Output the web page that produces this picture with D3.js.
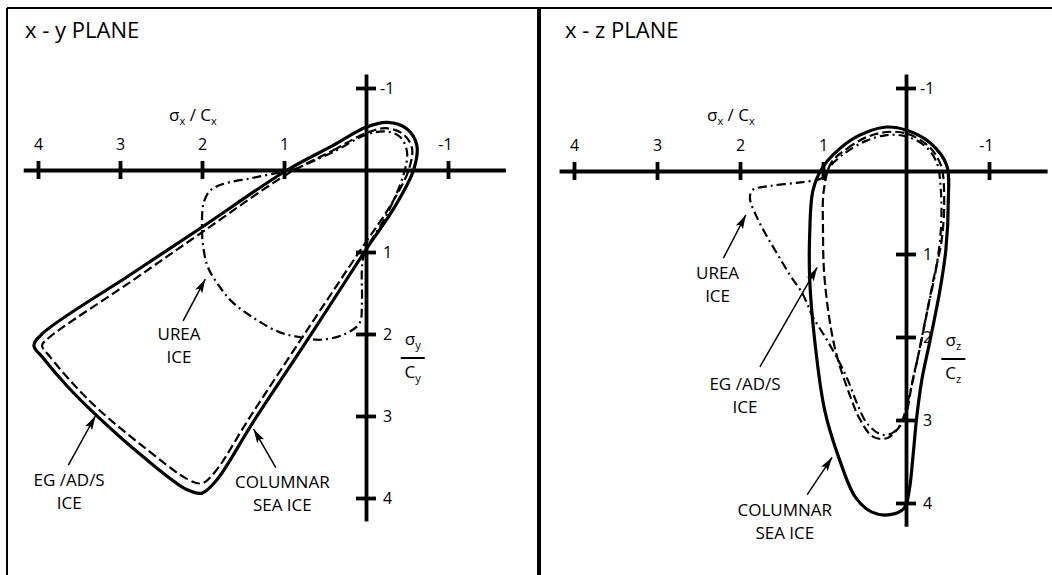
<!DOCTYPE html>
<html>
<head>
<meta charset="utf-8">
<script src="https://cdn.jsdelivr.net/npm/d3@7"></script>
<style>
  body { margin: 0; background: #fff; }
  svg { display: block; font-family: "Open Sans", sans-serif; }
  .axis .domain { stroke: #000; stroke-width: 3.8; }
  .axis .tick line { stroke: #000; stroke-width: 3.8; }
  .axis .tick text { font-size: 16px; fill: #000; font-family: "Open Sans", sans-serif; }
</style>
</head>
<body>
<svg width="1052" height="575"></svg>
<script>
var svg = d3.select("svg");

// tick values (same on both panels)
var xTicks = [4, 3, 2, 1, -1];
var yTicks = [-1, 1, 2, 3, 4];

// x - y plane  [sigma_x/C_x, sigma_y/C_y]
var xyColumnar = [[0.96,0],[0.40,-0.30],[0.0,-0.52],[-0.26,-0.58],[-0.50,-0.50],[-0.62,-0.30],[-0.58,0],[-0.35,0.45],
  [0,0.97],[0.68,2.02],[1.38,3.08],[1.82,3.78],[2.0,3.94],[2.18,3.90],[2.75,3.47],[3.30,2.98],[3.64,2.64],[3.94,2.29],[4.05,2.14],
  [3.94,1.99],[2.88,1.28],[2.02,0.71]];
var xyEgads = [[0.96,0.05],[0.40,-0.24],[0.0,-0.45],[-0.24,-0.51],[-0.45,-0.44],[-0.56,-0.27],[-0.52,0],[-0.30,0.43],
  [0.05,0.95],[0.73,1.97],[1.42,3.02],[1.84,3.68],[2.0,3.82],[2.16,3.78],[2.72,3.37],[3.25,2.93],[3.57,2.61],[3.86,2.27],[3.95,2.14],
  [3.86,2.04],[2.88,1.37],[2.0,0.76]];
var xyUrea = [[0.96,0.02],[1.05,0.03],[1.40,0.10],[1.74,0.17],[1.90,0.25],[1.98,0.40],[2.0,0.61],[1.99,0.89],[1.93,1.18],
  [1.78,1.43],[1.62,1.62],[1.33,1.83],[1.05,1.98],[0.80,2.04],[0.56,2.07],[0.28,2.01],[0.08,1.87],[0.05,1.62],[0.05,1.22],
  [0.02,1.02],[-0.25,0.55],[-0.46,0.05],[-0.50,-0.22],[-0.42,-0.40],[-0.25,-0.47],[0.0,-0.43],[0.40,-0.22]];

// x - z plane  [sigma_x/C_x, sigma_z/C_z]
var xzColumnar = [[1.0,-0.05],[0.71,-0.34],[0.47,-0.47],[0.23,-0.53],[-0.01,-0.49],[-0.29,-0.34],[-0.49,-0.07],[-0.51,0.35],
  [-0.48,0.95],[-0.41,1.43],[-0.29,2.04],[-0.19,2.52],[-0.13,2.96],[-0.08,3.48],[-0.04,3.84],[0.02,4.06],[0.19,4.14],
  [0.41,4.11],[0.61,3.93],[0.80,3.48],[0.98,2.88],[1.10,2.04],[1.16,1.31],[1.16,0.75],[1.12,0.23]];
var xzEgads = [[0.90,-0.10],[0.71,-0.27],[0.47,-0.41],[0.23,-0.47],[-0.01,-0.45],[-0.27,-0.30],[-0.42,-0.07],[-0.46,0.35],
  [-0.43,0.83],[-0.33,1.31],[-0.17,2.12],[-0.08,2.52],[0.01,2.96],[0.11,3.12],[0.23,3.22],[0.40,3.20],[0.55,3.0],
  [0.67,2.72],[0.86,2.12],[0.98,1.31],[1.0,0.71],[0.99,0.23]];
var xzUrea = [[0.92,-0.05],[1.0,0.08],[1.30,0.14],[1.64,0.18],[1.85,0.23],[1.88,0.33],[1.80,0.55],[1.68,0.78],[1.55,1.00],
  [1.40,1.25],[1.24,1.49],[1.12,1.76],[0.95,2.04],[0.80,2.31],[0.70,2.52],[0.59,2.80],[0.47,3.04],[0.31,3.17],[0.19,3.17],
  [0.07,3.06],[-0.01,2.82],[-0.11,2.40],[-0.25,1.71],[-0.36,1.19],[-0.42,0.71],[-0.42,0.23],[-0.37,-0.10],[-0.23,-0.30],
  [0.01,-0.42],[0.25,-0.43],[0.49,-0.36],[0.73,-0.22]];

// annotations: [text lines, text x, first baseline, arrow from, arrow to] in data units
var xyNotes = [
  [["UREA", "ICE"], 2.28, 2.07, [2.23, 1.84], [1.96, 1.33]],
  [["EG /AD/S", "ICE"], 3.62, 3.85, [3.63, 3.60], [3.30, 3.00]],
  [["COLUMNAR", "SEA ICE"], 1.02, 3.88, [1.10, 3.63], [1.37, 3.16]]
];
var xzNotes = [
  [["UREA", "ICE"], 2.27, 1.30, [2.20, 1.05], [1.93, 0.53]],
  [["EG /AD/S", "ICE"], 1.94, 2.64, [1.76, 2.36], [1.07, 1.16]],
  [["COLUMNAR", "SEA ICE"], 1.46, 4.16, [1.19, 3.90], [0.89, 3.45]]
];

// frame
svg.append("line").attr("x1", 7).attr("x2", 1052).attr("y1", 8).attr("y2", 8).attr("stroke", "#000").attr("stroke-width", 2);
svg.append("line").attr("x1", 7).attr("x2", 7).attr("y1", 8).attr("y2", 575).attr("stroke", "#000").attr("stroke-width", 2);
svg.append("line").attr("x1", 539).attr("x2", 539).attr("y1", 8).attr("y2", 575).attr("stroke", "#000").attr("stroke-width", 4);

svg.append("defs").append("marker")
  .attr("id", "arr")
  .attr("viewBox", "0 0 14 10")
  .attr("refX", 14).attr("refY", 5)
  .attr("markerWidth", 14).attr("markerHeight", 10)
  .attr("markerUnits", "userSpaceOnUse")
  .attr("orient", "auto")
  .append("path").attr("d", "M0,1L14,5L0,9L3,5Z").attr("fill", "#000");

function drawPanel(ox, oy, k, title, sub, curves, notes) {
  var x = d3.scaleLinear().domain([4.18, -1.7]).range([ox - 4.18 * k, ox + 1.7 * k]);
  var y = d3.scaleLinear().domain([-1.17, 4.28]).range([oy - 1.17 * k, oy + 4.28 * k]);
  var g = svg.append("g");

  g.append("text").attr("x", ox - 341).attr("y", 38).attr("font-size", 22).text(title);

  // x axis, labels above
  var ax = g.append("g").attr("class", "axis").attr("transform", "translate(0," + oy + ")")
    .call(d3.axisTop(x).tickValues(xTicks).tickSizeOuter(0).tickSizeInner(9).tickFormat(function(d) { return String(d); }));
  ax.selectAll(".tick line").attr("y1", 9).attr("y2", -9);
  ax.selectAll(".tick text").attr("y", -20).attr("dx", function(d) { return d < 0 ? -3 : 0; });

  // y axis, labels right
  var ay = g.append("g").attr("class", "axis").attr("transform", "translate(" + ox + ",0)")
    .call(d3.axisRight(y).tickValues(yTicks).tickSizeOuter(0).tickSizeInner(10).tickFormat(function(d) { return String(d); }));
  ay.selectAll(".tick line").attr("x1", -10).attr("x2", 10);
  ay.selectAll(".tick text").attr("x", function(d) { return d < 0 ? 14 : 17; });

  // axis titles
  var tx = g.append("text").attr("x", x(2.11)).attr("y", y(-0.6)).attr("text-anchor", "middle").attr("font-size", 17);
  tx.append("tspan").text("\u03c3");
  tx.append("tspan").attr("dy", 4).attr("font-size", 11).text("x");
  tx.append("tspan").attr("dy", -4).text(" / C");
  tx.append("tspan").attr("dy", 4).attr("font-size", 11).text("x");

  var fx = x(-0.57);
  var t1 = g.append("text").attr("x", fx).attr("y", oy + 175).attr("text-anchor", "middle").attr("font-size", 17);
  t1.append("tspan").text("\u03c3");
  t1.append("tspan").attr("dy", 4).attr("font-size", 11).text(sub);
  g.append("line").attr("x1", fx - 12).attr("x2", fx + 12).attr("y1", oy + 188).attr("y2", oy + 188)
    .attr("stroke", "#000").attr("stroke-width", 2);
  var t2 = g.append("text").attr("x", fx).attr("y", oy + 208).attr("text-anchor", "middle").attr("font-size", 17);
  t2.append("tspan").text("C");
  t2.append("tspan").attr("dy", 4).attr("font-size", 11).text(sub);

  // curves
  var line = d3.line()
    .x(function(d) { return x(d[0]); })
    .y(function(d) { return y(d[1]); })
    .curve(d3.curveCatmullRomClosed.alpha(0.5));

  g.append("path").attr("d", line(curves[0])).attr("fill", "none").attr("stroke", "#000").attr("stroke-width", 3.2);
  g.append("path").attr("d", line(curves[1])).attr("fill", "none").attr("stroke", "#000").attr("stroke-width", 2.2)
    .attr("stroke-dasharray", "9,4");
  g.append("path").attr("d", line(curves[2])).attr("fill", "none").attr("stroke", "#000").attr("stroke-width", 2.2)
    .attr("stroke-dasharray", "9,4,2,4");

  // annotations
  notes.forEach(function(n) {
    n[0].forEach(function(s, i) {
      g.append("text").attr("x", x(n[1])).attr("y", y(n[2]) + i * 23)
        .attr("text-anchor", "middle").attr("font-size", 17).text(s);
    });
    g.append("line")
      .attr("x1", x(n[3][0])).attr("y1", y(n[3][1]))
      .attr("x2", x(n[4][0])).attr("y2", y(n[4][1]))
      .attr("stroke", "#000").attr("stroke-width", 1.5)
      .attr("marker-end", "url(#arr)");
  });
}

drawPanel(366, 170, 82, "x - y  PLANE", "y", [xyColumnar, xyEgads, xyUrea], xyNotes);
drawPanel(906, 171, 83, "x - z  PLANE", "z", [xzColumnar, xzEgads, xzUrea], xzNotes);
</script>
</body>
</html>
